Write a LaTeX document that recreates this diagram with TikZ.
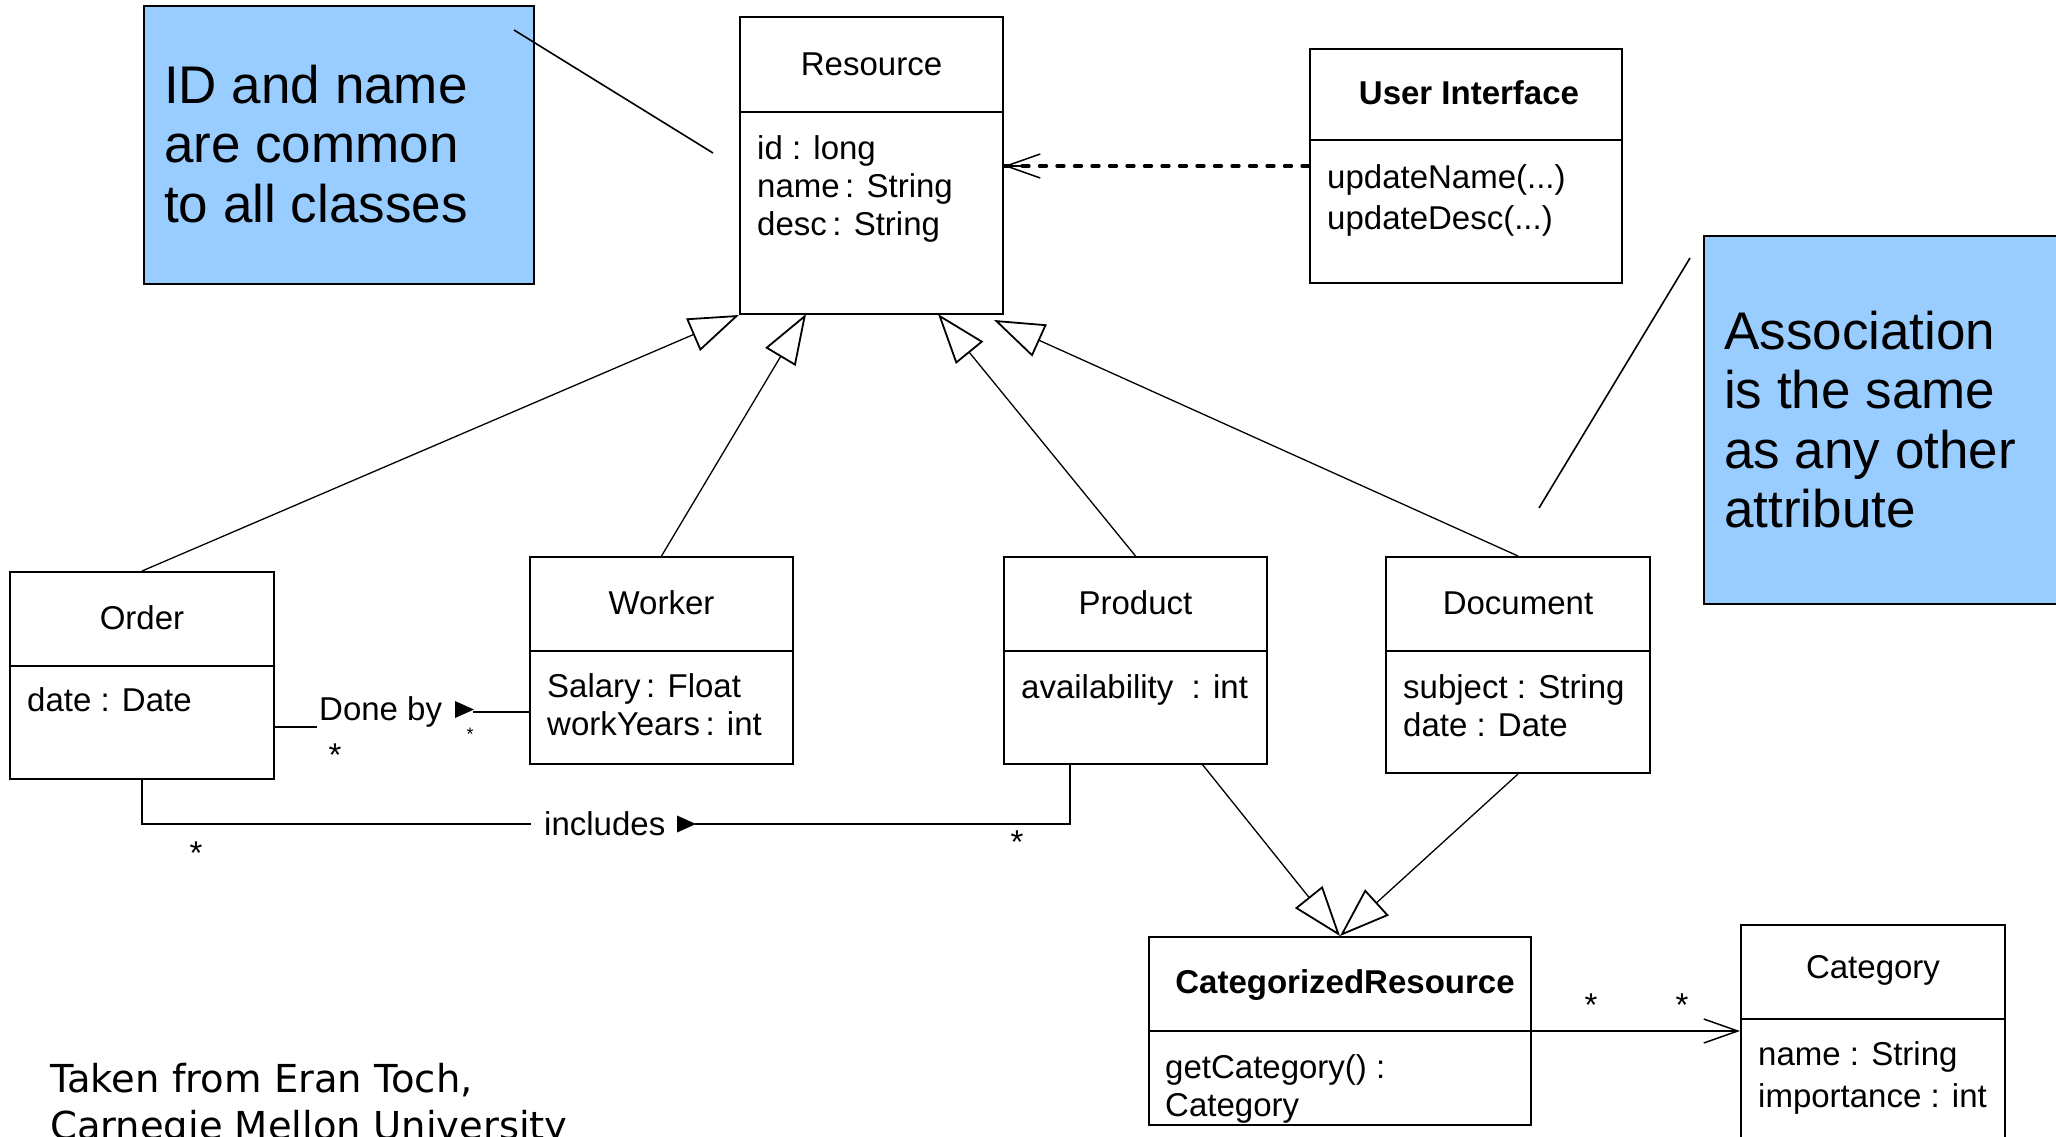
\documentclass[tikz,border=0pt]{standalone}
\usepackage{fontspec}
\setmainfont{Liberation Sans}
\newfontfamily\citefont{DejaVu Sans}
\usetikzlibrary{arrows.meta}
\definecolor{notebg}{HTML}{99CCFF}
\begin{document}
\begin{tikzpicture}[x=1pt,y=-1pt,
  box/.style={draw, line width=2pt, inner sep=0pt},
  divider/.style={line width=2pt},
  ttl/.style={font=\fontsize{33}{38}\selectfont, anchor=base, inner sep=0pt},
  bttl/.style={font=\fontsize{33}{38}\selectfont\bfseries, anchor=base, inner sep=0pt},
  attr/.style={font=\fontsize{33}{38}\selectfont, anchor=base west, inner sep=0pt},
  note/.style={draw, line width=2.2pt, fill=notebg, inner sep=0pt},
  notetxt/.style={font=\fontsize{53}{60}\selectfont, anchor=base west, inner sep=0pt},
  conn/.style={line width=1.3pt},
  gen/.style={conn, -{Triangle[open, length=50pt, width=35pt, line width=1.8pt]}},
  nav/.style={conn, -{Straight Barb[length=34pt, width=24pt, line width=1.5pt]}},
  mult/.style={font=\fontsize{33}{38}\selectfont, anchor=base, inner sep=0pt},
  cite/.style={font=\citefont\fontsize{38.5}{47}\selectfont, anchor=base west, inner sep=0pt},
]
\useasboundingbox (0,0) rectangle (2056,1136);
\clip (0,0) rectangle (2056,1136);

% ---------- notes ----------
\node[note, minimum width=390pt, minimum height=278pt] (note1) at (339,145) {};
\node[notetxt] (n1a) at (164,103) {ID and name};
\node[notetxt] (n1b) at (164,162) {are common};
\node[notetxt] (n1c) at (164,222) {to all classes};
\coordinate (n1p) at (514,30);
\coordinate (n1q) at (713,153);
\draw[line width=1.6pt] (n1p) -- (n1q);

\node[note, minimum width=366pt, minimum height=368pt] (note2) at (1887,420) {};
\node[notetxt] (n2a) at (1724,349) {Association};
\node[notetxt] (n2b) at (1724,408) {is the same};
\node[notetxt] (n2c) at (1724,468) {as any other};
\node[notetxt] (n2d) at (1724,527) {attribute};
\coordinate (n2p) at (1690,258);
\coordinate (n2q) at (1539,508);
\draw[line width=1.6pt] (n2p) -- (n2q);

% ---------- Resource ----------
\node[box, minimum width=263pt, minimum height=297pt] (res) at (871.5,165.5) {};
\draw[divider] (740,112) -- (1003,112);
\node[ttl] (resT) at (871.5,75) {Resource};
\node[attr] (resA1) at (757,159) {id : long};
\node[attr] (resA2) at (757,197) {name\,: String};
\node[attr] (resA3) at (757,235) {desc\,: String};

% ---------- User Interface ----------
\node[box, minimum width=312pt, minimum height=234pt] (ui) at (1466,166) {};
\draw[divider] (1310,140) -- (1622,140);
\node[bttl] (uiT) at (1469,104) {User Interface};
\node[attr] (uiA1) at (1327,188) {updateName(...)};
\node[attr] (uiA2) at (1327,229) {updateDesc(...)};

% ---------- Order ----------
\node[box, minimum width=264pt, minimum height=207pt] (order) at (142,675.5) {};
\draw[divider] (10,666) -- (274,666);
\node[ttl] (orderT) at (142,629) {Order};
\node[attr] (orderA1) at (27,711) {date : Date};

% ---------- Worker ----------
\node[box, minimum width=263pt, minimum height=207pt] (worker) at (661.5,660.5) {};
\draw[divider] (530,651) -- (793,651);
\node[ttl] (workerT) at (661.5,614) {Worker};
\node[attr] (workerA1) at (547,697) {Salary\,: Float};
\node[attr] (workerA2) at (547,735) {workYears\,: int};

% ---------- Product ----------
\node[box, minimum width=263pt, minimum height=207pt] (product) at (1135.5,660.5) {};
\draw[divider] (1004,651) -- (1267,651);
\node[ttl] (productT) at (1135.5,614) {Product};
\node[attr] (productA1) at (1021,698) {availability\ \ : int};

% ---------- Document ----------
\node[box, minimum width=264pt, minimum height=216pt] (document) at (1518,665) {};
\draw[divider] (1386,651) -- (1650,651);
\node[ttl] (documentT) at (1518,614) {Document};
\node[attr] (documentA1) at (1403,698) {subject : String};
\node[attr] (documentA2) at (1403,736) {date : Date};

% ---------- CategorizedResource ----------
\node[box, minimum width=382pt, minimum height=188pt] (cr) at (1340,1031) {};
\draw[divider] (1149,1031) -- (1531,1031);
\node[bttl] (crT) at (1345,993) {CategorizedResource};
\node[attr] (crA1) at (1165,1078) {getCategory() :};
\node[attr] (crA2) at (1165,1116) {Category};

% ---------- Category ----------
\node[box, minimum width=264pt, minimum height=300pt] (cat) at (1873,1075) {};
\draw[divider] (1741,1019) -- (2005,1019);
\node[ttl] (catT) at (1873,978) {Category};
\node[attr] (catA1) at (1758,1065) {name : String};
\node[attr] (catA2) at (1758,1107) {importance : int};

% ---------- generalizations ----------
\coordinate (tipW) at (806,314);
\coordinate (tipP) at (938,314);
\coordinate (tipD) at (994,320);
\coordinate (prodG) at (1202,764);
\draw[gen] (order.north) -- (res.south west);
\draw[gen] (worker.north) -- (tipW);
\draw[gen] (product.north) -- (tipP);
\draw[gen] (document.north) -- (tipD);
\draw[gen] (prodG) -- (cr.north);
\draw[gen] (document.south) -- (cr.north);

% ---------- dependency ----------
\draw[line width=3.3pt, line cap=round, dash pattern=on 7pt off 10.5pt] (ui.west) -- (ui.west -| res.east);
\draw[nav] (ui.west -| res.east) ++(20,0) coordinate (depS) (depS) -- (ui.west -| res.east);

% ---------- Done by ----------
\coordinate (doneL) at (317,727);
\coordinate (doneR) at (473,712);
\draw[conn] (order.east |- doneL) -- (doneL);
\draw[conn] (doneR) -- (doneR -| worker.west);
\node[attr] (doneby) at (319,720) {Done by};
\fill (455,701) -- (455,718) -- (474,709.5) -- cycle;
\node[mult] (m1) at (335,766) {*};
\node[mult, font=\fontsize{18}{20}\selectfont] (m2) at (470,740) {*};

% ---------- includes ----------
\coordinate (inclL) at (531,824);
\coordinate (inclR) at (695,824);
\coordinate (prodJ) at (1070,764);
\draw[conn] (order.south) |- (inclL);
\draw[conn] (inclR) -| (prodJ);
\node[attr] (incl) at (544,835) {includes};
\fill (677,815.5) -- (677,832.5) -- (696,824) -- cycle;
\node[mult] (m3) at (196,864) {*};
\node[mult] (m4) at (1017,853) {*};

% ---------- association CR -> Category ----------
\draw[nav] (cr.east) -- (cr.east -| cat.west);
\node[mult] (m5) at (1591,1016) {*};
\node[mult] (m6) at (1682,1016) {*};

% ---------- citation ----------
\node[cite] (cite1) at (50,1092) {Taken from Eran Toch,};
\node[cite] (cite2) at (50,1139) {Carnegie Mellon University};
\end{tikzpicture}
\end{document}
